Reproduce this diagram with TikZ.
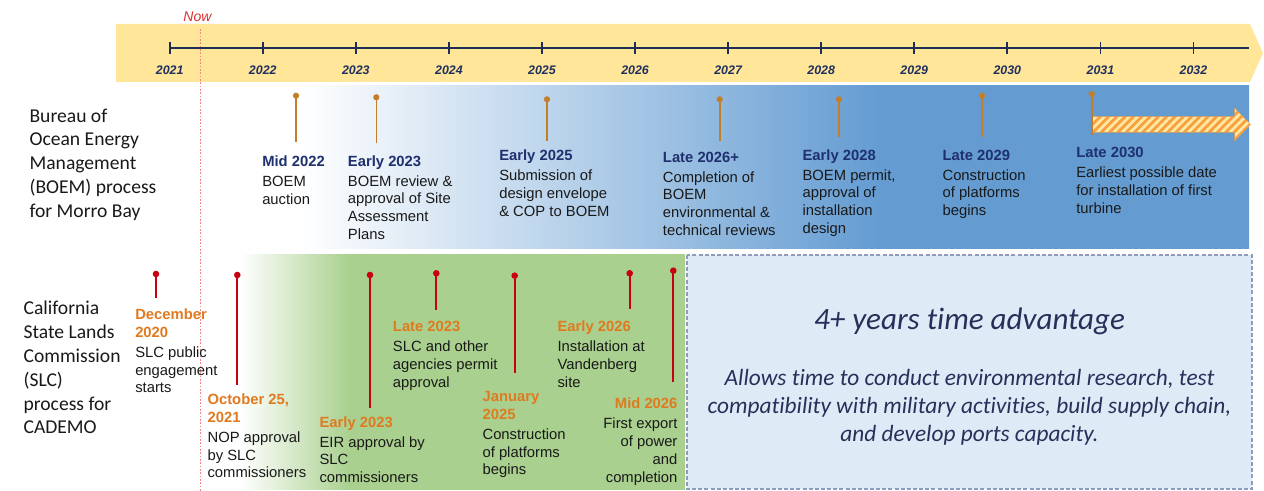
\documentclass[tikz,border=0pt]{standalone}
\usepackage{fontspec}
\setmainfont{Liberation Sans}
\newfontfamily\calfont[Ligatures=NoCommon]{Carlito}
\usetikzlibrary{patterns.meta}

\definecolor{band}{RGB}{255,230,153}
\definecolor{axiscol}{RGB}{31,45,85}
\definecolor{yeartxt}{RGB}{31,47,95}
\definecolor{nowred}{RGB}{220,45,45}
\definecolor{nowline}{RGB}{240,135,135}
\definecolor{boemblue}{RGB}{100,156,210}
\definecolor{slcgreen}{RGB}{169,208,142}
\definecolor{boxfill}{RGB}{222,235,247}
\definecolor{boxline}{RGB}{145,155,190}
\definecolor{navy}{RGB}{31,48,110}
\definecolor{bodytxt}{RGB}{25,25,25}
\definecolor{pinbrown}{RGB}{196,125,40}
\definecolor{pinred}{RGB}{200,0,15}
\definecolor{slcorange}{RGB}{224,122,32}
\definecolor{hatchorange}{RGB}{247,160,60}
\definecolor{hatchlight}{RGB}{255,232,165}
\definecolor{advtxt}{RGB}{40,48,90}

% panel fades: the path's width maps onto 25bp..75bp of the shading
\pgfdeclarehorizontalshading{boemfade}{100bp}{color(0bp)=(white); color(29.8bp)=(white);
  color(57.4bp)=(boemblue); color(100bp)=(boemblue)}
\pgfdeclarehorizontalshading{slcfade}{100bp}{color(0bp)=(white); color(25.9bp)=(white);
  color(38bp)=(slcgreen); color(100bp)=(slcgreen)}

\newcommand\boemhd[1]{{\bfseries\color{navy}#1}}
\newcommand\slchd[1]{{\bfseries\color{slcorange}#1}}

\tikzset{
  axisline/.style={draw=axiscol, line width=1.5pt},
  ticklines/.style={draw=axiscol, line width=1.3pt},
  yearlbl/.style={text=yeartxt, inner sep=0, font=\fontsize{9.3pt}{11pt}\selectfont\bfseries\itshape},
  ev/.style={anchor=north west, align=left, inner sep=0, text=bodytxt,
    font=\fontsize{11.1pt}{13.3pt}\selectfont},
  sidelbl/.style={anchor=north west, align=left, inner sep=0, text=black!90,
    font=\calfont\fontsize{14.7pt}{17.9pt}\selectfont},
  boempin/.style={draw=pinbrown, line width=1.2pt},
  slcpin/.style={draw=pinred, line width=1.5pt},
  nowdots/.style={draw=nowline, line width=0.9pt, dash pattern=on 1.2pt off 1.3pt},
  advbox/.style={draw=boxline, fill=boxfill, line width=0.8pt, dash pattern=on 3pt off 1.6pt},
  advhead/.style={text=advtxt, inner sep=0, font=\calfont\itshape\fontsize{23.3pt}{28pt}\selectfont},
  advbody/.style={text=advtxt, inner sep=0, align=center, font=\calfont\itshape\fontsize{17.5pt}{21pt}\selectfont},
}

\begin{document}
\begin{tikzpicture}[x=0.75pt, y=-0.75pt]
\useasboundingbox (0,0) rectangle (1264,491);

% timeline band
\fill[band] (116,24) -- (1250,24) -- (1263,53) -- (1250,82) -- (116,82) -- cycle;

% BOEM panel: white fading into blue
\shade[shading=boemfade] (200,86) rectangle (1249,249);

% SLC panel: white fading into green
\shade[shading=slcfade] (232,255) rectangle (685,489);

% time advantage box
\draw[advbox] (687,255) rectangle (1252,489);
\node[advhead] (advh) at (969.5,321) {4+ years time advantage};
\node[advbody] (advb) at (969.5,407.5) {Allows time to conduct environmental research, test\\compatibility with military activities, build supply chain,\\and develop ports capacity.};

% axis with yearly ticks
\coordinate (axL) at (169.7,48.5);
\coordinate (axR) at (1249,48.5);
\draw[axisline] (axL) -- (axR);
\foreach \i in {0,...,11} {
  \pgfmathsetmacro\xx{169.7+93.07*\i}
  \draw[ticklines] (\xx,42.5) -- (\xx,54.5);
  \pgfmathtruncatemacro\yr{2021+\i}
  \node[yearlbl] (yr\i) at (\xx,70) {\yr};
}

% now marker
\node[text=nowred, inner sep=0, font=\fontsize{10.5pt}{12pt}\selectfont\itshape] (now) at (197.5,17) {Now};
\coordinate (nowtop) at (200.5,29);
\coordinate (nowbot) at (200.5,491);
\draw[nowdots] (nowtop) -- (nowbot);

% process labels
\node[sidelbl] (boemlbl) at (29.3,108.4) {Bureau of\\Ocean Energy\\Management\\(BOEM) process\\for Morro Bay};
\node[sidelbl] (slclbl) at (23.3,300.7) {California\\State Lands\\Commission\\(SLC)\\process for\\CADEMO};

% hatched arrow towards first turbine
\path[fill=hatchorange, draw=hatchorange, line width=0.8pt, line join=miter,
  postaction={pattern={Lines[angle=45, distance=4.4pt, line width=2.1pt]}, pattern color=hatchlight}]
  (1092,117) -- (1235,117) -- (1235,109) -- (1250,124.5) -- (1235,140) -- (1235,132) -- (1092,132) -- cycle;

% BOEM milestones
\foreach \n/\x/\ya/\yb in {1/296/95.7/141.7, 2/376.3/97.3/143.3, 3/547/99.3/141,
    4/719.7/99.3/141, 5/839/99.3/136.7, 6/982/95.7/136.7, 7/1091.7/94/135} {
  \coordinate (bp\n a) at (\x,\ya);
  \coordinate (bp\n b) at (\x,\yb);
  \draw[boempin] (bp\n a) -- (bp\n b);
  \fill[pinbrown] (bp\n a) circle (3.1);
}
\node[ev] (b1) at (262,156) {\boemhd{Mid 2022}\\[1.6pt]BOEM\\auction};
\node[ev] (b2) at (347.7,155.4) {\boemhd{Early 2023}\\[1.6pt]BOEM review \&\\approval of Site\\Assessment\\Plans};
\node[ev] (b3) at (499,150) {\boemhd{Early 2025}\\[1.6pt]Submission of\\design envelope\\\& COP to BOEM};
\node[ev] (b4) at (662.7,151.7) {\boemhd{Late 2026+}\\[1.6pt]Completion of\\BOEM\\environmental \&\\technical reviews};
\node[ev] (b5) at (802.3,149.2) {\boemhd{Early 2028}\\[1.6pt]BOEM permit,\\approval of\\installation\\design};
\node[ev] (b6) at (942.3,149.7) {\boemhd{Late 2029}\\[1.6pt]Construction\\of platforms\\begins};
\node[ev] (b7) at (1076,147.4) {\boemhd{Late 2030}\\[1.6pt]Earliest possible date\\for installation of first\\turbine};

% SLC milestones
\foreach \n/\x/\ya/\yb in {1/156/274/297.7, 2/237.3/275/385, 3/370/275/407.7,
    4/436.3/273.3/310, 5/514.7/275.7/373.3, 6/629.7/273.3/309.3, 7/673.3/270.7/381.7} {
  \coordinate (sp\n a) at (\x,\ya);
  \coordinate (sp\n b) at (\x,\yb);
  \draw[slcpin] (sp\n a) -- (sp\n b);
  \fill[pinred] (sp\n a) circle (3.3);
}
\node[ev] (s1) at (135,308.7) {\slchd{December}\\\slchd{2020}\\[1.6pt]SLC public\\engagement\\starts};
\node[ev] (s2) at (207.3,393.7) {\slchd{October 25,}\\\slchd{2021}\\[1.6pt]NOP approval\\by SLC\\commissioners};
\node[ev] (s3) at (319.3,416.4) {\slchd{Early 2023}\\[1.6pt]EIR approval by\\SLC\\commissioners};
\node[ev] (s4) at (392.7,321.4) {\slchd{Late 2023}\\[1.6pt]SLC and other\\agencies permit\\approval};
\node[ev] (s5) at (482.3,391.4) {\slchd{January}\\\slchd{2025}\\[1.6pt]Construction\\of platforms\\begins};
\node[ev] (s6) at (557.3,320.7) {\slchd{Early 2026}\\[1.6pt]Installation at\\Vandenberg\\site};
\node[ev, anchor=north east, align=right] (s7) at (677.7,398) {\slchd{Mid 2026}\\[1.6pt]First export\\of power\\and\\completion};

\end{tikzpicture}
\end{document}
